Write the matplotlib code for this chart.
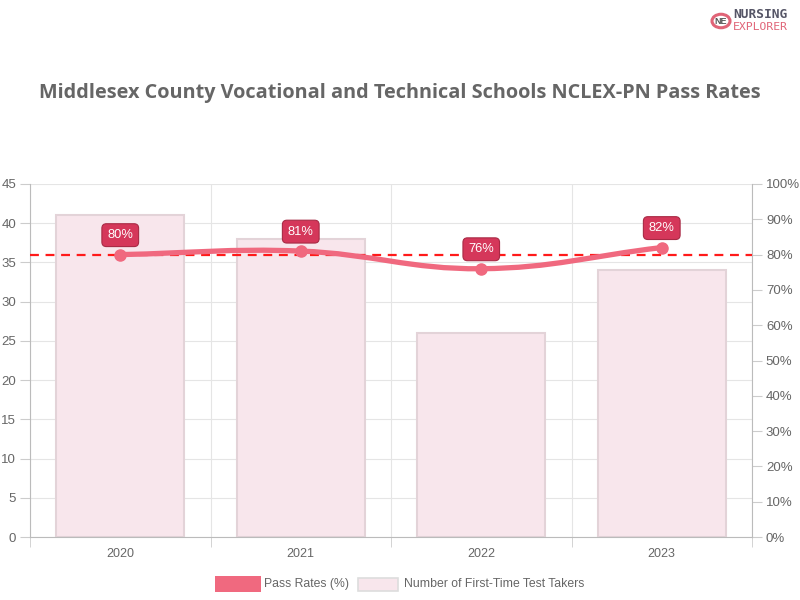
import matplotlib
matplotlib.use("Agg")
import matplotlib.pyplot as plt
import numpy as np
from matplotlib.path import Path
from matplotlib.patches import PathPatch, Rectangle, Circle

years = ["2020", "2021", "2022", "2023"]
takers = [41, 38, 26, 34]
pass_rates = [80, 81, 76, 82]
benchmark = 80
left_ticks = list(range(0, 50, 5))
right_ticks = list(range(0, 110, 10))

title = "Middlesex County Vocational and Technical Schools NCLEX-PN Pass Rates"

plt.rcParams['font.family'] = ['Liberation Sans', 'DejaVu Sans']

fig = plt.figure(figsize=(8, 6), dpi=100)
ax = fig.add_axes([30/800, 1-537/600, (752-30)/800, (537-184)/600])
ax2 = ax.twinx()

grey = "#666666"
gridc = "#e5e5e5"

x = np.arange(len(years))
ax.bar(x, takers, width=0.71, color="#f8e6ec", edgecolor="#e3d3d8", linewidth=1.5, zorder=2)
ax.set_xlim(-0.5, len(years) - 0.5)
ax.set_ylim(0, 45)
ax.set_yticks(left_ticks)
ax.set_yticklabels([str(t) for t in left_ticks])
ax.set_xticks(x)
ax.set_xticklabels(years)
ax.set_xticks(np.arange(-0.5, len(years)), minor=True)
ax.grid(True, axis="y", color=gridc, linewidth=0.8, zorder=0)
ax.grid(True, axis="x", which="minor", color=gridc, linewidth=0.8, zorder=0)
ax.tick_params(axis="x", which="major", length=0, pad=8, labelsize=9, labelcolor=grey)
ax.tick_params(axis="x", which="minor", length=7, color="#cccccc")
ax.tick_params(axis="y", length=7, color="#cccccc", labelsize=9.5, labelcolor=grey, pad=3)
ax.set_axisbelow(True)
for s in ["top", "right"]:
    ax.spines[s].set_visible(False)
ax.spines["left"].set_color("#bbbbbb")
ax.spines["bottom"].set_color("#bbbbbb")

ax2.set_ylim(0, 100)
ax2.set_yticks(right_ticks)
ax2.set_yticklabels([f"{t}%" for t in right_ticks])
ax2.tick_params(axis="y", length=7, color="#cccccc", labelsize=9.5, labelcolor=grey, pad=3)
for s in ["top", "left", "bottom"]:
    ax2.spines[s].set_visible(False)
ax2.spines["right"].set_color("#bbbbbb")

# benchmark dashed line
ax2.axhline(benchmark, color="#ff1a1a", linestyle=(0, (4, 3)), linewidth=1.6, zorder=3)

# Chart.js style spline (tension 0.4) computed in pixel-like units
line_col = "#f0697f"
sx, sy = 180.5, 3.53
px = x * sx
py = np.array(pass_rates, dtype=float) * sy
t = 0.4
n = len(px)
cp_prev = [None]*n
cp_next = [None]*n
for i in range(n):
    p0 = (px[max(i-1, 0)], py[max(i-1, 0)])
    p1 = (px[i], py[i])
    p2 = (px[min(i+1, n-1)], py[min(i+1, n-1)])
    d01 = np.hypot(p1[0]-p0[0], p1[1]-p0[1])
    d12 = np.hypot(p2[0]-p1[0], p2[1]-p1[1])
    tot = d01 + d12
    s01 = d01/tot if tot else 0
    s12 = d12/tot if tot else 0
    fa, fb = t*s01, t*s12
    cp_prev[i] = (p1[0]-fa*(p2[0]-p0[0]), p1[1]-fa*(p2[1]-p0[1]))
    cp_next[i] = (p1[0]+fb*(p2[0]-p0[0]), p1[1]+fb*(p2[1]-p0[1]))
verts = [(px[0]/sx, py[0]/sy)]
codes = [Path.MOVETO]
for i in range(n-1):
    verts += [(cp_next[i][0]/sx, cp_next[i][1]/sy),
              (cp_prev[i+1][0]/sx, cp_prev[i+1][1]/sy),
              (px[i+1]/sx, py[i+1]/sy)]
    codes += [Path.CURVE4]*3
ax2.add_patch(PathPatch(Path(verts, codes), facecolor="none", edgecolor=line_col,
                        linewidth=3.8, capstyle="round", zorder=4))
ax2.plot(x, pass_rates, "o", color=line_col, markersize=8, zorder=5)

for xi, v in zip(x, pass_rates):
    ax2.annotate(f"{v}%", (xi, v), xytext=(0, 14), textcoords="offset points",
                 ha="center", va="center", fontsize=9.3, color="white", zorder=6,
                 bbox=dict(boxstyle="round,pad=0.42,rounding_size=0.35",
                           fc="#d5375a", ec="#a82a45", lw=0.8))

# title
fig.text(0.5, 1-93.5/600, title, ha="center", va="center", fontsize=14.3,
         fontweight="bold", color="#666666", family=["Open Sans", "DejaVu Sans"])

# legend
ly = 1-584/600
fig.patches.append(Rectangle((215/800, ly-8/600), 46/800, 16/600, transform=fig.transFigure,
                             fc=line_col, ec=line_col, lw=0))
fig.text(264/800, ly, "Pass Rates (%)", ha="left", va="center", fontsize=8.8, color=grey)
fig.patches.append(Rectangle((358/800, ly-7/600), 40/800, 13/600, transform=fig.transFigure,
                             fc="#f8e6ec", ec="#dddddd", lw=1.2))
fig.text(404/800, ly, "Number of First-Time Test Takers", ha="left", va="center",
         fontsize=8.8, color=grey)

# logo
fig.patches.append(Circle((721/800, 1-21/600), 9/800, transform=fig.transFigure,
                          fc="none", ec="#e06477", lw=2.2))
fig.text(721/800, 1-21/600, "NE", ha="center", va="center", fontsize=6.5, color="#555555",
         fontweight="bold")
fig.text(733/800, 1-15/600, "NURSING", ha="left", va="center", fontsize=9.3,
         fontweight="bold", color="#555566", family=["DejaVu Sans Mono", "DejaVu Sans"])
fig.text(733/800, 1-27/600, "EXPLORER", ha="left", va="center", fontsize=8.2,
         color="#e06477", family=["DejaVu Sans Mono", "DejaVu Sans"])

fig.savefig("out.png", dpi=100)
